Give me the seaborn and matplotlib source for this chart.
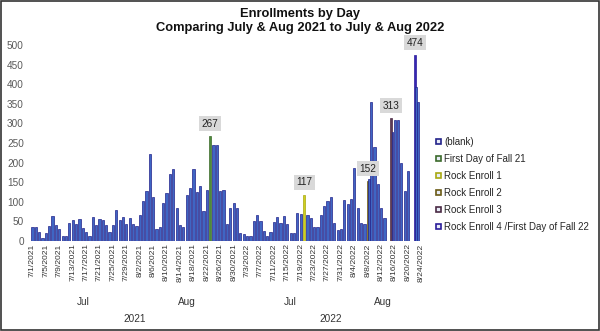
import numpy as np
import pandas as pd
import matplotlib
matplotlib.use("Agg")
import matplotlib.pyplot as plt
from matplotlib.patches import Rectangle, Patch
from matplotlib.colors import to_hex
import seaborn as sns

# ---------------- data ----------------
enroll_2021 = [36, 36, 22, 7, 20, 38, 64, 39, 29, 11, 11, 46, 53, 44, 56, 32, 21, 11, 61, 39,
               55, 52, 39, 22, 40, 78, 52, 61, 43, 57, 42, 37, 67, 101, 126, 222, 112, 29, 35, 96,
               122, 171, 183, 83, 40, 34, 116, 135, 184, 124, 140, 75, 131, 267, 245, 245, 127, 131, 43, 84,
               97, 84]
enroll_2022 = [19, 18, 11, 11, 51, 65, 51, 26, 12, 21, 48, 60, 46, 64, 43, 19, 20, 72, 68, 117,
               66, 58, 36, 36, 66, 90, 101, 112, 46, 28, 30, 104, 93, 107, 187, 84, 45, 43, 152, 355,
               239, 145, 83, 59, 0, 313, 309, 309, 198, 127, 178, 0, 474, 355, 0]

dates_2021 = [f"{d.month}/{d.day}/{d.year}" for d in pd.date_range("2021-07-01", "2021-08-31")]
dates_2022 = [f"{d.month}/{d.day}/{d.year}" for d in pd.date_range("2022-07-01", "2022-08-24")]

series_names = ["(blank)", "First Day of Fall 21", "Rock Enroll 1", "Rock Enroll 2",
                "Rock Enroll 3", "Rock Enroll 4 /First Day of Fall 22"]
special_days = {"8/23/2021": "First Day of Fall 21",
                "7/20/2022": "Rock Enroll 1",
                "8/8/2022": "Rock Enroll 2",
                "8/15/2022": "Rock Enroll 3",
                "8/22/2022": "Rock Enroll 4 /First Day of Fall 22"}
# (blank) values recorded on the same special days
blank_on_special = {"8/8/2022": 158, "8/15/2022": 279, "8/22/2022": 394}

months = ["Jul", "Aug", "Jul", "Aug"]
years = ["2021", "2022"]

fill_colors = ["#3f66c4", "#4e8a3a", "#cfcf1e", "#8a7620", "#5d3a56", "#3626b4"]
edge_colors = ["#22228a", "#3b6a2a", "#a8a810", "#6a5a14", "#4a2a44", "#2a1c9a"]

dates = dates_2021 + dates_2022
values = enroll_2021 + enroll_2022
df = pd.DataFrame({"date": dates, "value": values,
                   "series": [special_days.get(d, "(blank)") for d in dates]})

# ---------------- figure ----------------
sns.set_style("white")
plt.rcParams["font.family"] = ["Liberation Sans", "DejaVu Sans"]

fig = plt.figure(figsize=(6, 3.31), dpi=100)
ax = fig.add_axes([0.0513, 0.2728, 0.6539, 0.5903])

sns.barplot(data=df, x="date", y="value", hue="series", hue_order=series_names,
            palette=dict(zip(series_names, fill_colors)), dodge=False, width=0.66,
            order=dates, legend=False, ax=ax, saturation=1)

edge_map = {to_hex(f): e for f, e in zip(fill_colors, edge_colors)}
for p in ax.patches:
    p.set_edgecolor(edge_map.get(to_hex(p.get_facecolor()), "#22228a"))
    p.set_linewidth(0.5)

# (blank) bars overlapping the special days
for d, v in blank_on_special.items():
    i = dates.index(d)
    ax.bar(i + 0.4, v, width=0.5, color=fill_colors[0], edgecolor=edge_colors[0],
           linewidth=0.5, zorder=3)

# data labels on special days
for d in special_days:
    i = dates.index(d)
    v = values[i]
    ax.annotate(f"{v}", xy=(i, v), xytext=(0, 9), textcoords="offset points",
                ha="center", va="center", fontsize=7.2, color="#222222",
                bbox=dict(boxstyle="square,pad=0.25", fc="#d9d9d9", ec="none"),
                annotation_clip=False, zorder=5)

ax.set_ylim(0, 500)
ax.set_xlim(-0.5, len(dates) - 0.5)
ax.set_yticks(np.arange(0, 501, 50))
ax.tick_params(axis="y", labelsize=7.2, labelcolor="#595959", length=0, pad=5)
ticks = list(range(0, len(dates), 4))
ax.set_xticks(ticks)
ax.set_xticklabels([dates[i] for i in ticks], rotation=90, fontsize=6.1, color="#333333")
ax.tick_params(axis="x", length=0, pad=2)
ax.set_xlabel("")
ax.set_ylabel("")
for s in ax.spines.values():
    s.set_visible(False)

# multi-level category labels
trans = ax.get_xaxis_transform()
n21, n22 = len(dates_2021), len(dates_2022)
month_spans = [(0, 30), (31, n21 - 1), (n21, n21 + 30), (n21 + 31, n21 + n22 - 1)]
for m, (a, b) in zip(months, month_spans):
    ax.text((a + b) / 2, -0.315, m, transform=trans, ha="center", va="center",
            fontsize=7.2, color="#333333")
for y, (a, b) in zip(years, [(0, n21 - 1), (n21, n21 + n22 - 1)]):
    ax.text((a + b) / 2, -0.40, y, transform=trans, ha="center", va="center",
            fontsize=7.2, color="#333333")

# titles
fig.text(0.5, 1 - 14 / 331, "Enrollments by Day", ha="center", va="center",
         fontsize=9.3, fontweight="bold", color="#111111")
fig.text(0.5, 1 - 28 / 331, "Comparing July & Aug 2021 to July & Aug 2022", ha="center",
         va="center", fontsize=9.3, fontweight="bold", color="#111111")

# legend
handles = [Patch(facecolor="#e8ecf8", edgecolor=e, linewidth=1.2) for e in edge_colors]
fig.legend(handles, series_names, loc="upper left", bbox_to_anchor=(436 / 600, 1 - 137 / 331),
           frameon=False, fontsize=7, handlelength=0.5, handleheight=0.5,
           handletextpad=0.35, labelspacing=0.72, borderpad=0, borderaxespad=0)

# figure border
fig.patches.append(Rectangle((0.001, 0.002), 0.997, 0.996, transform=fig.transFigure,
                             fill=False, edgecolor="#333333", linewidth=1.2))

fig.savefig("out.png", dpi=100, facecolor="white")
